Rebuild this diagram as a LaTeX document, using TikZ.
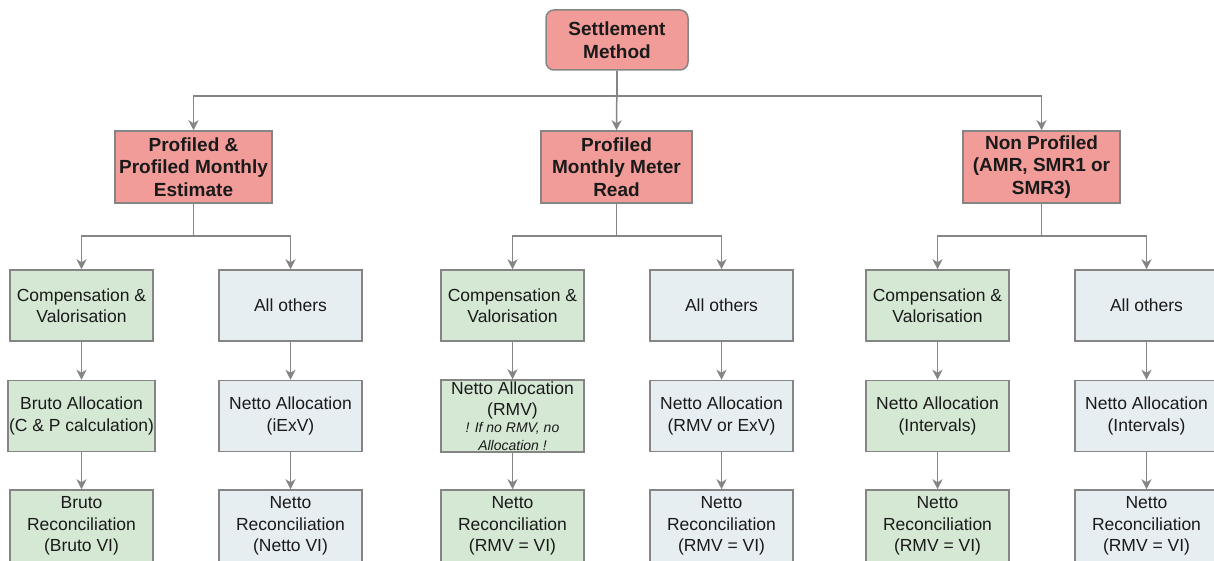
\documentclass[tikz,border=0pt]{standalone}
\usepackage{fontspec}
\setmainfont{Liberation Sans}
\usetikzlibrary{arrows.meta}
\definecolor{redf}{HTML}{F19C99}
\definecolor{greenf}{HTML}{D5E8D4}
\definecolor{bluef}{HTML}{E6EEF2}
\definecolor{linegray}{HTML}{858585}
\definecolor{textc}{HTML}{1A1A1A}
\tikzset{
  base/.style={draw=linegray, line width=1.5pt, inner sep=1pt, align=center, text=textc},
  redbox/.style={base, fill=redf, minimum height=72pt, font=\fontsize{19}{22.7}\selectfont\bfseries},
  greenbox/.style={base, fill=greenf, minimum width=143pt, minimum height=71pt, font=\fontsize{17.5}{21.5}\selectfont},
  bluebox/.style={base, fill=bluef, minimum width=143pt, minimum height=71pt, font=\fontsize{17.5}{21.5}\selectfont},
  conn/.style={draw=linegray, line width=1.5pt, -{Stealth[length=10pt,width=10pt,inset=3pt]}},
  plain/.style={draw=linegray, line width=1.5pt}
}
\begin{document}
\begin{tikzpicture}[x=1pt,y=-1pt]
\useasboundingbox[fill=white] (0,0) rectangle (1214,561);
% top
\node[redbox, rounded corners=8pt, minimum width=142pt, minimum height=60pt] (sm) at (617,40) {Settlement\\Method};
% level 2
\node[redbox, minimum width=157pt] (p1) at (193.5,167) {Profiled \&\\Profiled Monthly\\Estimate};
\node[redbox, minimum width=151pt] (p2) at (616.5,167) {Profiled\\Monthly Meter\\Read};
\node[redbox, minimum width=157pt] (p3) at (1041.5,167) {Non Profiled\\(AMR, SMR1 or\\SMR3)};
% bus coordinates
\coordinate (bus0) at (0,96);
\coordinate (bus1) at (0,236);
% level 3
\node[greenbox] (c1) at (81.5,305.5) {Compensation \&\\Valorisation};
\node[bluebox]  (o1) at (290.5,305.5) {All others};
\node[greenbox] (c2) at (512.5,305.5) {Compensation \&\\Valorisation};
\node[bluebox]  (o2) at (721.5,305.5) {All others};
\node[greenbox] (c3) at (937.5,305.5) {Compensation \&\\Valorisation};
\node[bluebox]  (o3) at (1146.5,305.5) {All others};
% level 4
\node[greenbox] (a1) at (81.5,416) {Bruto Allocation\\(C \& P calculation)};
\node[bluebox]  (n1) at (290.5,416) {Netto Allocation\\(iExV)};
\node[greenbox, minimum height=72pt] (a2) at (512.5,416) {Netto Allocation\\[-1pt](RMV)\\[-4pt]{\fontsize{14}{17}\selectfont\itshape ! If no RMV, no}\\[-4pt]{\fontsize{14}{17}\selectfont\itshape Allocation !}};
\node[bluebox]  (n2) at (721.5,416) {Netto Allocation\\(RMV or ExV)};
\node[greenbox] (a3) at (937.5,416) {Netto Allocation\\(Intervals)};
\node[bluebox]  (n3) at (1146.5,416) {Netto Allocation\\(Intervals)};
% level 5
\node[greenbox, minimum height=72pt] (r1) at (81.5,526) {Bruto\\Reconciliation\\(Bruto VI)};
\node[bluebox, minimum height=72pt]  (s1) at (290.5,526) {Netto\\Reconciliation\\(Netto VI)};
\node[greenbox, minimum height=72pt] (r2) at (512.5,526) {Netto\\Reconciliation\\(RMV = VI)};
\node[bluebox, minimum height=72pt]  (s2) at (721.5,526) {Netto\\Reconciliation\\(RMV = VI)};
\node[greenbox, minimum height=72pt] (r3) at (937.5,526) {Netto\\Reconciliation\\(RMV = VI)};
\node[bluebox, minimum height=72pt]  (s3) at (1146.5,526) {Netto\\Reconciliation\\(RMV = VI)};
% connectors top
\draw[conn] (sm.south) -- (sm.south |- bus0) -| (p1.north);
\draw[conn] (sm.south) -- (p2.north);
\draw[conn] (sm.south) -- (sm.south |- bus0) -| (p3.north);
% level 2 -> 3
\draw[conn] (p1.south) -- (p1.south |- bus1) -| (c1.north);
\draw[conn] (p1.south) -- (p1.south |- bus1) -| (o1.north);
\draw[conn] (p2.south) -- (p2.south |- bus1) -| (c2.north);
\draw[conn] (p2.south) -- (p2.south |- bus1) -| (o2.north);
\draw[conn] (p3.south) -- (p3.south |- bus1) -| (c3.north);
\draw[conn] (p3.south) -- (p3.south |- bus1) -| (o3.north);
% verticals
\foreach \u/\v in {c1/a1,o1/n1,c2/a2,o2/n2,c3/a3,o3/n3,a1/r1,n1/s1,a2/r2,n2/s2,a3/r3,n3/s3}{
  \draw[conn] (\u.south) -- (\v.north);
}
\end{tikzpicture}
\end{document}
